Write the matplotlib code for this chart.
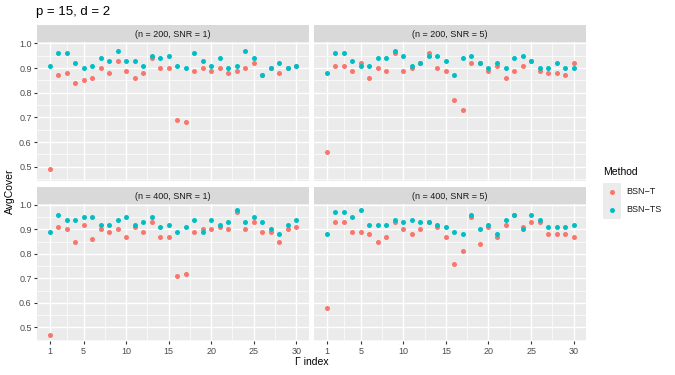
import matplotlib
matplotlib.use("Agg")
import matplotlib.pyplot as plt
from matplotlib.patches import Rectangle

plt.rcParams['font.family'] = ['Liberation Sans', 'DejaVu Sans']

gamma_index = list(range(1, 31))
panel_titles = ["(n = 200, SNR = 1)", "(n = 200, SNR = 5)",
                "(n = 400, SNR = 1)", "(n = 400, SNR = 5)"]
methods = ["BSN\u2212T", "BSN\u2212TS"]
colors = ["#F8766D", "#00BFC4"]

# AvgCover
bsn_t_200_1 = [0.49, 0.87, 0.88, 0.84, 0.85, 0.86, 0.90, 0.88, 0.93, 0.89,
               0.86, 0.88, 0.94, 0.90, 0.90, 0.69, 0.68, 0.89, 0.90, 0.89,
               0.90, 0.88, 0.89, 0.90, 0.92, 0.87, 0.90, 0.88, 0.90, 0.91]
bsn_ts_200_1 = [0.91, 0.96, 0.96, 0.92, 0.90, 0.91, 0.94, 0.93, 0.97, 0.93,
                0.93, 0.91, 0.95, 0.94, 0.95, 0.91, 0.90, 0.96, 0.93, 0.91,
                0.94, 0.90, 0.91, 0.97, 0.94, 0.87, 0.90, 0.92, 0.90, 0.91]
bsn_t_200_5 = [0.56, 0.91, 0.91, 0.89, 0.92, 0.86, 0.90, 0.89, 0.96, 0.89,
               0.90, 0.92, 0.96, 0.90, 0.89, 0.77, 0.73, 0.92, 0.92, 0.89,
               0.91, 0.86, 0.89, 0.91, 0.93, 0.89, 0.88, 0.88, 0.87, 0.92]
bsn_ts_200_5 = [0.88, 0.96, 0.96, 0.93, 0.91, 0.91, 0.94, 0.94, 0.97, 0.95,
                0.91, 0.92, 0.95, 0.95, 0.93, 0.87, 0.94, 0.95, 0.92, 0.90,
                0.92, 0.90, 0.94, 0.95, 0.93, 0.90, 0.90, 0.92, 0.90, 0.90]
bsn_t_400_1 = [0.47, 0.91, 0.90, 0.85, 0.92, 0.86, 0.90, 0.89, 0.90, 0.87,
               0.91, 0.89, 0.93, 0.87, 0.87, 0.71, 0.72, 0.89, 0.90, 0.90,
               0.91, 0.90, 0.97, 0.90, 0.93, 0.89, 0.89, 0.85, 0.90, 0.91]
bsn_ts_400_1 = [0.89, 0.96, 0.94, 0.94, 0.95, 0.95, 0.92, 0.92, 0.94, 0.95,
                0.92, 0.93, 0.95, 0.91, 0.92, 0.89, 0.91, 0.94, 0.89, 0.94,
                0.92, 0.93, 0.98, 0.93, 0.95, 0.93, 0.90, 0.88, 0.92, 0.94]
bsn_t_400_5 = [0.58, 0.93, 0.93, 0.89, 0.89, 0.88, 0.85, 0.87, 0.93, 0.90,
               0.88, 0.90, 0.93, 0.91, 0.87, 0.76, 0.81, 0.95, 0.84, 0.91,
               0.87, 0.92, 0.96, 0.91, 0.93, 0.93, 0.88, 0.88, 0.88, 0.87]
bsn_ts_400_5 = [0.88, 0.97, 0.97, 0.95, 0.98, 0.92, 0.92, 0.92, 0.94, 0.93,
                0.94, 0.93, 0.93, 0.92, 0.91, 0.89, 0.88, 0.96, 0.90, 0.92,
                0.88, 0.94, 0.96, 0.90, 0.96, 0.94, 0.91, 0.91, 0.91, 0.92]

panels = [(bsn_t_200_1, bsn_ts_200_1), (bsn_t_200_5, bsn_ts_200_5),
          (bsn_t_400_1, bsn_ts_400_1), (bsn_t_400_5, bsn_ts_400_5)]

W, H = 675, 375
fig = plt.figure(figsize=(6.75, 3.75), dpi=100)


def box(x0, y0, x1, y1):
    # pixel box (top-left origin) -> figure fraction
    return [x0 / W, 1 - y1 / H, (x1 - x0) / W, (y1 - y0) / H]


cols = [(37.3, 308.6), (314.3, 586.0)]
rows = [(42.0, 180.5), (203.6, 341.0)]
strip_h = 16.8

allv = [v for p in panels for s in p for v in s]
lo, hi = min(allv), max(allv)
pad = (hi - lo) * 0.05

for k, (series_t, series_ts) in enumerate(panels):
    r, c = divmod(k, 2)
    x0, x1 = cols[c]
    y0, y1 = rows[r]
    ax = fig.add_axes(box(x0, y0, x1, y1))
    ax.set_facecolor("#EBEBEB")
    for s in ax.spines.values():
        s.set_visible(False)
    ax.set_xlim(1 - 1.45, 30 + 1.45)
    ax.set_ylim(lo - pad, hi + pad)
    ax.set_xticks([1, 5, 10, 15, 20, 25, 30])
    ax.set_xticks([3, 7.5, 12.5, 17.5, 22.5, 27.5], minor=True)
    ax.set_yticks([0.5, 0.6, 0.7, 0.8, 0.9, 1.0])
    ax.set_yticks([0.45, 0.55, 0.65, 0.75, 0.85, 0.95], minor=True)
    ax.grid(which="major", color="white", lw=1.0)
    ax.grid(which="minor", color="white", lw=0.5)
    ax.set_axisbelow(True)
    ax.tick_params(which="minor", length=0)
    ax.tick_params(which="major", length=2.5, width=0.8, color="#333333",
                   labelsize=6.5, labelcolor="#4D4D4D", pad=1.5)
    if c == 1:
        ax.tick_params(axis="y", length=0, labelleft=False)
    if r == 0:
        ax.tick_params(axis="x", length=0, labelbottom=False)
    ax.scatter(gamma_index, series_t, s=13, color=colors[0], lw=0, zorder=3)
    ax.scatter(gamma_index, series_ts, s=13, color=colors[1], lw=0, zorder=3)

    sax = fig.add_axes(box(x0, y0 - strip_h, x1, y0))
    sax.set_facecolor("#D9D9D9")
    sax.set_xticks([])
    sax.set_yticks([])
    for s in sax.spines.values():
        s.set_visible(False)
    sax.text(0.5, 0.45, panel_titles[k], ha="center", va="center",
             fontsize=6.5, color="#1A1A1A", transform=sax.transAxes)

fig.text(36.5 / W, 1 - 12 / H, "p = 15, d = 2", ha="left", va="center",
         fontsize=9.5)
fig.text(10 / W, 1 - 191 / H, "AvgCover", rotation=90, ha="center",
         va="center", fontsize=7.5)
fig.text(311.7 / W, 1 - 362 / H, "\u0393 index", ha="center", va="center",
         fontsize=7.5)

# legend
fig.text(603 / W, 1 - 172 / H, "Method", ha="left", va="center", fontsize=7.5)
lax = fig.add_axes([0, 0, 1, 1], facecolor="none")
lax.set_xlim(0, W)
lax.set_ylim(H, 0)
lax.axis("off")
for i, (m, col) in enumerate(zip(methods, colors)):
    ky = 182.5 + i * 18
    lax.add_patch(Rectangle((603, ky), 18, 18, facecolor="#EBEBEB",
                            edgecolor="none"))
    lax.scatter([612], [ky + 9], s=13, color=col, lw=0)
    lax.text(626.5, ky + 9, m, ha="left", va="center", fontsize=6.5,
             color="#1A1A1A")

fig.savefig("out.png", dpi=100)
